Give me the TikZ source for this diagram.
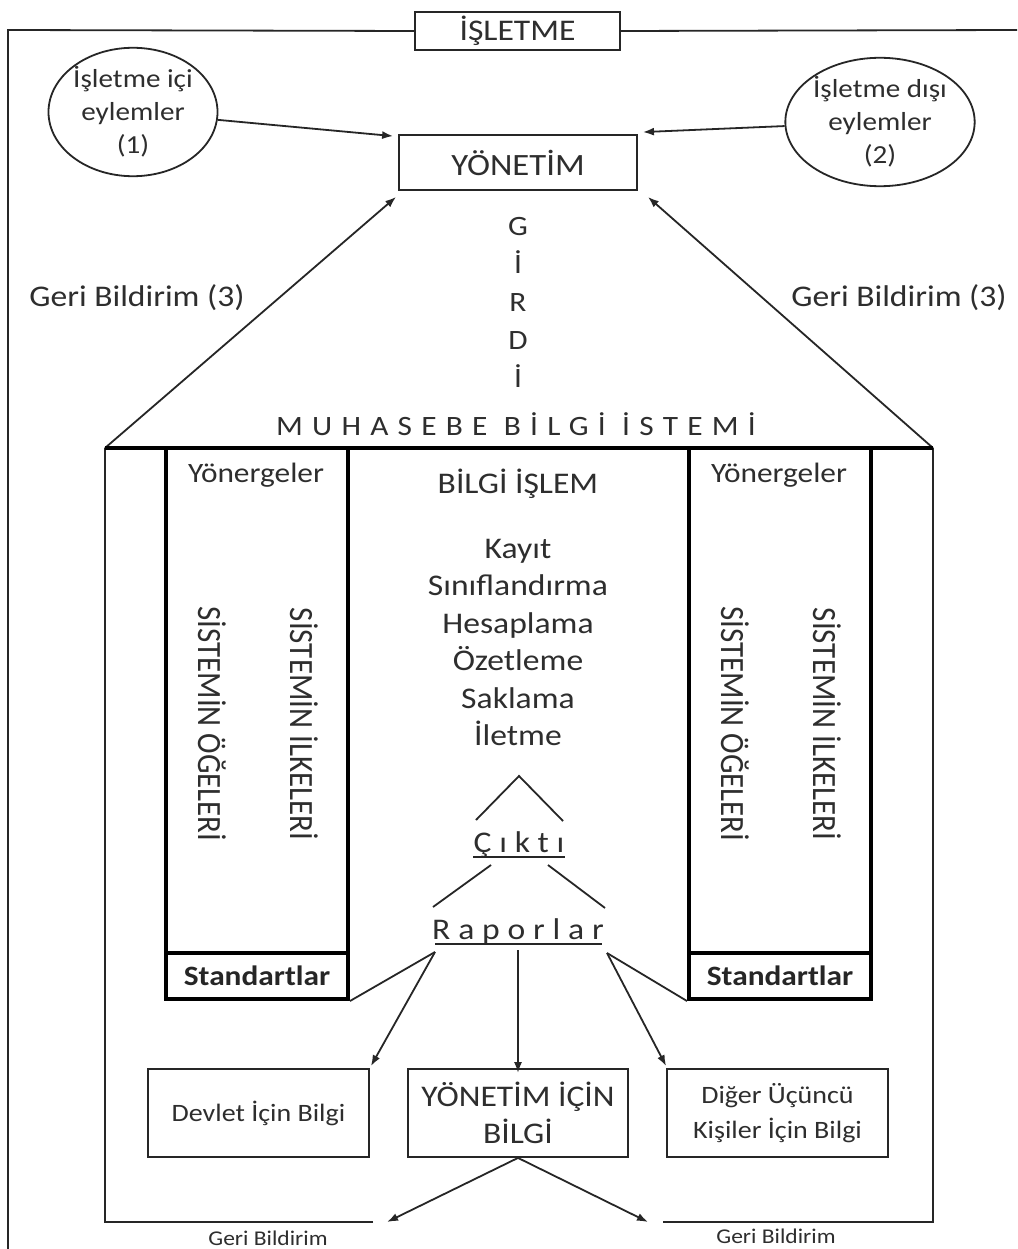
\documentclass[tikz,border=0pt]{standalone}
\usepackage{fontspec}
\setmainfont{Carlito}[FakeStretch=1.12]
\newfontfamily\rotfont{Carlito}[FakeStretch=0.91]
\newfontfamily\spfont{Carlito}[FakeStretch=1.12,LetterSpace=33,Ligatures=NoCommon]
\newfontfamily\spfontb{Carlito}[FakeStretch=1.12,LetterSpace=26,Ligatures=NoCommon]
\usetikzlibrary{arrows.meta,shapes.geometric}
\newcommand{\fsz}[2]{\fontsize{#1}{#2}\selectfont}
\begin{document}
\begin{tikzpicture}[x=1pt,y=-1pt,
  line/.style={draw=black!85,line width=1.8pt},
  thickline/.style={draw=black,line width=4pt},
  boxn/.style={draw=black!85,line width=1.8pt,inner sep=0pt,align=center,text=black!82},
  thickbox/.style={draw=black,line width=4pt,inner sep=0pt,align=center,text=black!85},
  txt/.style={inner sep=0pt,text=black!82},
  arr/.style={line,-{Latex[length=11pt,width=8pt]}},
]
\useasboundingbox (0,0) rectangle (1017,1249);
\fill[white] (0,0) rectangle (1017,1249);

% outer frame
\node[boxn,minimum width=205pt,minimum height=38pt,font=\fsz{30}{36}] (islet) at (517.5,31) {İŞLETME};
\coordinate (ftl) at (8,30);
\coordinate (fbl) at (8,1249);
\coordinate (ftr) at (1017,30);
\draw[line] (islet.west) -- (ftl) -- (fbl);
\draw[line] (islet.east) -- (ftr);

% ellipses
\node[boxn,ellipse,minimum width=166pt,minimum height=116pt,font=\fsz{26}{33}] (ell1) at (133,112) {İşletme içi\\eylemler\\(1)};
\node[boxn,ellipse,minimum width=162pt,minimum height=124pt,font=\fsz{26}{33}] (ell2) at (880,122) {İşletme dışı\\eylemler\\(2)};

% management
\node[boxn,minimum width=238pt,minimum height=55pt,font=\fsz{31}{37}] (yon) at (518,162.5) {YÖNETİM};
\draw[arr] (ell1) -- ([shift={(-5,2)}]yon.north west);
\draw[arr] (ell2) -- ([shift={(5,-2)}]yon.north east);

% GIRDI
\node[txt,align=center,font=\fsz{28}{38}] (girdi) at (518,302) {G\\İ\\R\\D\\İ};

% feedback labels
\node[txt,font=\fsz{30}{36}] (gb1) at (137,298) {Geri Bildirim (3)};
\node[txt,font=\fsz{30}{36}] (gb2) at (899,298) {Geri Bildirim (3)};

% roof
\coordinate (rl) at (105,448);
\coordinate (rr) at (933,448);
\draw[arr] (rl) -- ([shift={(-2,6)}]yon.south west);
\draw[arr] (rr) -- ([shift={(10,6)}]yon.south east);
\node[txt,anchor=base,font=\spfont\fsz{28}{34}] (mbs) at (516,435) {MUHASEBE BİLGİ İSTEMİ};

% MBS frame
\coordinate (bl) at (105,1222);
\coordinate (br) at (933,1222);
\coordinate (bl2) at (373,1222);
\coordinate (br2) at (663,1222);
\draw[line] (bl2) -- (bl) -- (rl);
\draw[line] (br2) -- (br) -- (rr);
\draw[thickline] (rl) -- (rr);

% left column
\node[thickbox,minimum width=182pt,minimum height=505pt] (colL) at (257,700.5) {};
\node[thickbox,minimum width=182pt,minimum height=46pt,font=\bfseries\fsz{28}{34}] (stdL) at (257,976) {Standartlar};
\node[txt,anchor=base,font=\fsz{28}{34}] (yonL) at (256,482) {Yönergeler};
\node[txt,anchor=base,rotate=-90,font=\rotfont\fsz{34}{40}] (ogeL) at (198,724) {SİSTEMİN ÖĞELERİ};
\node[txt,anchor=base,rotate=-90,font=\rotfont\fsz{34}{40}] (ilkL) at (290,724) {SİSTEMİN İLKELERİ};

% right column
\node[thickbox,minimum width=182pt,minimum height=505pt] (colR) at (780,700.5) {};
\node[thickbox,minimum width=182pt,minimum height=46pt,font=\bfseries\fsz{28}{34}] (stdR) at (780,976) {Standartlar};
\node[txt,anchor=base,font=\fsz{28}{34}] (yonR) at (779,482) {Yönergeler};
\node[txt,anchor=base,rotate=-90,font=\rotfont\fsz{34}{40}] (ogeR) at (721,724) {SİSTEMİN ÖĞELERİ};
\node[txt,anchor=base,rotate=-90,font=\rotfont\fsz{34}{40}] (ilkR) at (813,724) {SİSTEMİN İLKELERİ};

% centre
\node[txt,anchor=base,font=\fsz{30}{36}] (bis) at (518,493) {BİLGİ İŞLEM};
\node[txt,anchor=base,font=\fsz{30}{36}] (k1) at (518,558) {Kayıt};
\node[txt,anchor=base,font=\fsz{30}{36}] (k2) at (518,595) {Sınıflandırma};
\node[txt,anchor=base,font=\fsz{30}{36}] (k3) at (518,633) {Hesaplama};
\node[txt,anchor=base,font=\fsz{30}{36}] (k4) at (518,670) {Özetleme};
\node[txt,anchor=base,font=\fsz{30}{36}] (k5) at (518,708) {Saklama};
\node[txt,anchor=base,font=\fsz{30}{36}] (k6) at (518,745) {İletme};

\coordinate (c1) at (476,820);
\coordinate (c2) at (519,776);
\coordinate (c3) at (563,821);
\draw[line] (c1) -- (c2) -- (c3);

\node[txt,anchor=base,font=\spfontb\fsz{30}{36}] (cikti) at (519,852) {Çıktı};
\coordinate (u1a) at (473,857);
\coordinate (u1b) at (565,857);
\draw[line] (u1a) -- (u1b);

\coordinate (d1a) at (491,865);
\coordinate (d1b) at (433,907);
\coordinate (d2a) at (548,865);
\coordinate (d2b) at (605,908);
\draw[line] (d1a) -- (d1b);
\draw[line] (d2a) -- (d2b);

\node[txt,anchor=base,font=\spfontb\fsz{30}{36}] (rap) at (518,939) {Raporlar};
\coordinate (u2a) at (435,944);
\coordinate (u2b) at (602,944);
\draw[line] (u2a) -- (u2b);

% outputs
\node[boxn,minimum width=221pt,minimum height=88pt,font=\fsz{25}{35}] (devlet) at (258.5,1113) {Devlet İçin Bilgi};
\node[boxn,minimum width=220pt,minimum height=88pt,font=\fsz{30}{37}] (ybilgi) at (518,1113) {YÖNETİM İÇİN\\BİLGİ};
\node[boxn,minimum width=221pt,minimum height=88pt,font=\fsz{25}{35}] (diger) at (777.5,1113) {Diğer Üçüncü\\Kişiler İçin Bilgi};

\coordinate (rapL) at (435,952);
\coordinate (rapM) at (518,950);
\coordinate (rapR) at (607,953);
\draw[line] (rapL) -- (stdL.south east);
\draw[line] (rapR) -- (stdR.south west);
\draw[arr] (rapL) -- ([shift={(1,-2)}]devlet.north east);
\draw[arr] (rapM) -- ([yshift=-5]ybilgi.north);
\draw[arr] (rapR) -- ([shift={(0,-2)}]diger.north west);

% feedback to bottom
\coordinate (fbL) at (387,1222);
\coordinate (fbR) at (648,1222);
\draw[arr] (ybilgi.south) -- (fbL);
\draw[arr] (ybilgi.south) -- (fbR);
\node[txt,font=\fsz{21}{26}] (gbb1) at (268,1238) {Geri Bildirim};
\node[txt,font=\fsz{21}{26}] (gbb2) at (776,1236) {Geri Bildirim};
\end{tikzpicture}
\end{document}
